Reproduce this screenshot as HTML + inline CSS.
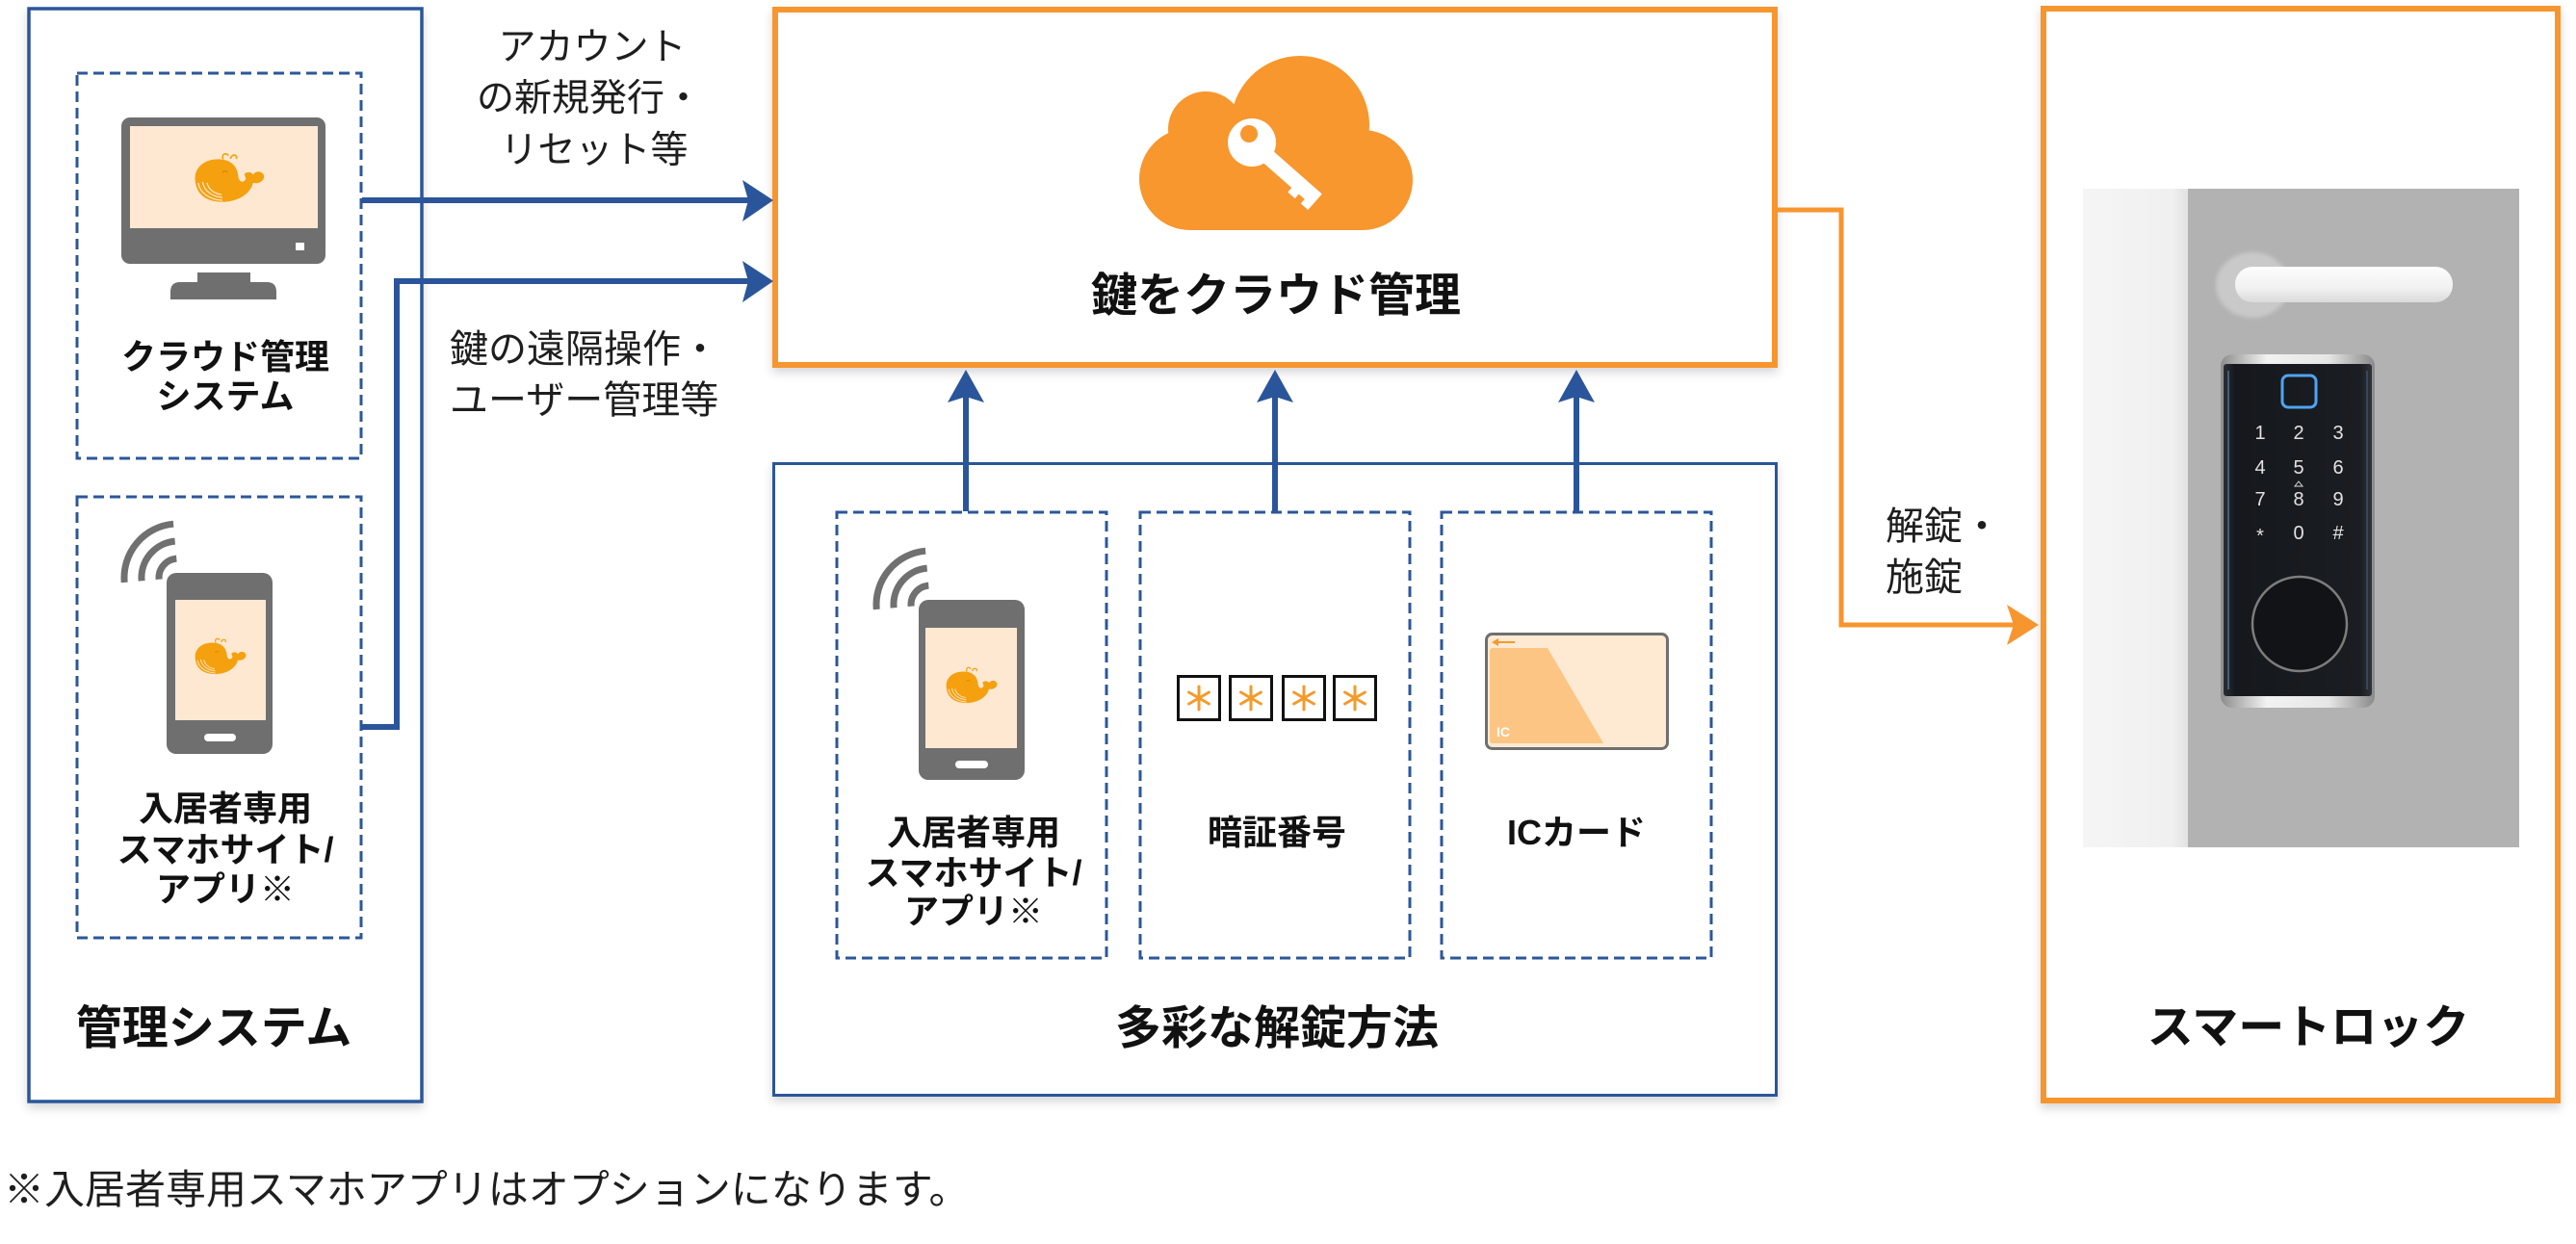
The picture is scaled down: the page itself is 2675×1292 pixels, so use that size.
<!DOCTYPE html>
<html><head><meta charset="utf-8">
<style>
html,body{margin:0;padding:0;background:#fff;}
svg{display:block;}
text{font-family:"Liberation Sans","Noto Sans CJK JP",sans-serif;}
.b{font-weight:700;fill:#111;}
.r{font-weight:400;fill:#1e1e1e;}
</style></head><body>
<svg width="2675" height="1292" viewBox="0 0 2675 1292" xmlns="http://www.w3.org/2000/svg">
<defs>
  <filter id="sh" x="-5%" y="-5%" width="110%" height="115%">
    <feDropShadow dx="0" dy="5" stdDeviation="5" flood-color="#000" flood-opacity="0.16"/>
  </filter>
  <filter id="blur2"><feGaussianBlur stdDeviation="2"/></filter>
  <linearGradient id="strip" x1="0" y1="0" x2="1" y2="0">
    <stop offset="0" stop-color="#F5F5F5"/><stop offset="0.85" stop-color="#F0F0F0"/><stop offset="1" stop-color="#E2E2E2"/>
  </linearGradient>
  <linearGradient id="bar" x1="0" y1="0" x2="0" y2="1">
    <stop offset="0" stop-color="#FDFDFD"/><stop offset="0.6" stop-color="#F1F1F1"/><stop offset="1" stop-color="#DADADA"/>
  </linearGradient>
  <linearGradient id="silver" x1="0" y1="0" x2="1" y2="0">
    <stop offset="0" stop-color="#8d8d8d"/><stop offset="0.3" stop-color="#f2f2f2"/><stop offset="0.7" stop-color="#e6e6e6"/><stop offset="1" stop-color="#8a8a8a"/>
  </linearGradient>
  <linearGradient id="body" x1="0" y1="0" x2="1" y2="0">
    <stop offset="0" stop-color="#2b2f34"/><stop offset="0.08" stop-color="#15181c"/><stop offset="0.92" stop-color="#1a1d21"/><stop offset="1" stop-color="#30343a"/>
  </linearGradient>
  <g id="whale">
    <path d="M5,40 C2,20 20,8 40,10 C55,11 63,20 64,35 C66,42 72,42 74,36 L72,30 C76,26 82,27 84,31 C88,24 98,26 99,33 C99,40 90,44 84,42 C80,58 62,68 42,68 C20,68 7,58 5,40 Z" fill="#F5A00E"/>
    <path d="M9,42 C11,56 25,65 42,66 M15,41 C17,53 28,61 42,62 M21,42 C23,51 31,57 41,58" fill="none" stroke="#FEE8D2" stroke-width="1.6"/>
    <path d="M43,10 C40,2 48,0 50,5 M53,9 C55,2 63,3 61,9" fill="none" stroke="#F5A00E" stroke-width="2.2"/>
    <path d="M42,28 C44,25 47,25 49,28" fill="none" stroke="#D98800" stroke-width="1.6"/>
  </g>
  <g id="wifi" fill="none" stroke="#707070" stroke-width="7">
    <path d="M-55.8,4.9 A56,56 0 0 1 -4.9,-55.8"/>
    <path d="M-37.9,3.3 A38,38 0 0 1 -3.3,-37.9"/>
    <path d="M-19.9,1.7 A20,20 0 0 1 -1.7,-19.9"/>
  </g>
</defs>

<!-- ===== Left box: 管理システム ===== -->
<rect x="30" y="9" width="408" height="1135" fill="#fff" stroke="#2B579A" stroke-width="3.5" filter="url(#sh)"/>
<rect x="80" y="76" width="295" height="400" fill="none" stroke="#2B579A" stroke-width="3" stroke-dasharray="11 6"/>
<rect x="80" y="516" width="295" height="458" fill="none" stroke="#2B579A" stroke-width="3" stroke-dasharray="11 6"/>

<!-- monitor -->
<rect x="126" y="122" width="212" height="152" rx="9" fill="#6f6f6f"/>
<rect x="135" y="131" width="195" height="106" fill="#FEE8D2"/>
<rect x="307" y="252" width="9" height="8" fill="#fff"/>
<rect x="205" y="283" width="55" height="11" fill="#6f6f6f"/>
<path d="M177,311 V303 Q177,293 187,293 H277 Q287,293 287,303 V311 Z" fill="#6f6f6f"/>
<use href="#whale" transform="translate(199,158) scale(0.76)"/>

<text class="b" x="234" y="383" font-size="36" text-anchor="middle">クラウド管理</text>
<text class="b" x="234" y="424" font-size="36" text-anchor="middle">システム</text>

<!-- left phone -->
<use href="#wifi" transform="translate(185,600)"/>
<rect x="173" y="595" width="110" height="188" rx="10" fill="#6f6f6f"/>
<rect x="182" y="623" width="94" height="125" fill="#FEE8D2"/>
<rect x="212" y="762" width="33" height="8" rx="4" fill="#fff"/>
<use href="#whale" transform="translate(200,662) scale(0.56)"/>

<text class="b" x="234" y="852" font-size="36" text-anchor="middle">入居者専用</text>
<text class="b" x="234" y="895" font-size="36" text-anchor="middle">スマホサイト/</text>
<text class="b" x="234" y="936" font-size="36" text-anchor="middle">アプリ※</text>

<text class="b" x="222" y="1084" font-size="48" text-anchor="middle">管理システム</text>

<!-- ===== Cloud box ===== -->
<rect x="805" y="10" width="1038" height="369" fill="#fff" stroke="#F7962F" stroke-width="6" filter="url(#sh)"/>
<g fill="#F7972E">
  <circle cx="1236" cy="186" r="53"/>
  <circle cx="1415" cy="187" r="52"/>
  <circle cx="1252" cy="134" r="39"/>
  <circle cx="1350" cy="130" r="72"/>
  <rect x="1236" y="150" width="179" height="89"/>
  <rect x="1250" y="130" width="150" height="60"/>
</g>
<g fill="#fff">
  <circle cx="1300" cy="148" r="25"/>
  <g transform="translate(1300,148) rotate(41.4)">
    <polygon points="0,-8 90,-8 90,14 80,14 80,8 72,8 72,14 62,14 62,8 0,8"/>
  </g>
</g>
<circle cx="1297" cy="139" r="9" fill="#F7972E"/>
<text class="b" x="1325" y="323" font-size="48" text-anchor="middle">鍵をクラウド管理</text>

<!-- ===== Methods box ===== -->
<rect x="803.5" y="481.5" width="1041" height="656" fill="#fff" stroke="#2B579A" stroke-width="3" filter="url(#sh)"/>
<rect x="869" y="532" width="280" height="463" fill="none" stroke="#2B579A" stroke-width="3" stroke-dasharray="11 6"/>
<rect x="1184" y="532" width="280" height="463" fill="none" stroke="#2B579A" stroke-width="3" stroke-dasharray="11 6"/>
<rect x="1497" y="532" width="280" height="463" fill="none" stroke="#2B579A" stroke-width="3" stroke-dasharray="11 6"/>

<!-- phone A -->
<use href="#wifi" transform="translate(966,628)"/>
<rect x="954" y="623" width="110" height="187" rx="10" fill="#6f6f6f"/>
<rect x="961" y="652" width="95" height="125" fill="#FEE8D2"/>
<rect x="992" y="790" width="34" height="8" rx="4" fill="#fff"/>
<use href="#whale" transform="translate(980,692) scale(0.56)"/>
<text class="b" x="1011" y="877" font-size="36" text-anchor="middle">入居者専用</text>
<text class="b" x="1011" y="919" font-size="36" text-anchor="middle">スマホサイト/</text>
<text class="b" x="1011" y="959" font-size="36" text-anchor="middle">アプリ※</text>

<!-- PIN boxes -->
<g fill="#fff" stroke="#111" stroke-width="3">
  <rect x="1223.5" y="702.5" width="43" height="45"/>
  <rect x="1277.5" y="702.5" width="43" height="45"/>
  <rect x="1332.5" y="702.5" width="43" height="45"/>
  <rect x="1385.5" y="702.5" width="43" height="45"/>
</g>
<g stroke="#F39A2B" stroke-width="3" stroke-linecap="round">
  <g transform="translate(1245,725)"><line x1="0" y1="-12" x2="0" y2="12"/><line x1="-10.4" y1="-6" x2="10.4" y2="6"/><line x1="-10.4" y1="6" x2="10.4" y2="-6"/></g>
  <g transform="translate(1299,725)"><line x1="0" y1="-12" x2="0" y2="12"/><line x1="-10.4" y1="-6" x2="10.4" y2="6"/><line x1="-10.4" y1="6" x2="10.4" y2="-6"/></g>
  <g transform="translate(1354,725)"><line x1="0" y1="-12" x2="0" y2="12"/><line x1="-10.4" y1="-6" x2="10.4" y2="6"/><line x1="-10.4" y1="6" x2="10.4" y2="-6"/></g>
  <g transform="translate(1407,725)"><line x1="0" y1="-12" x2="0" y2="12"/><line x1="-10.4" y1="-6" x2="10.4" y2="6"/><line x1="-10.4" y1="6" x2="10.4" y2="-6"/></g>
</g>
<text class="b" x="1326" y="877" font-size="36" text-anchor="middle">暗証番号</text>

<!-- IC card -->
<rect x="1543.5" y="658.5" width="188" height="119" rx="6" fill="#FEE9D3" stroke="#6f6f6f" stroke-width="3"/>
<path d="M1550,673 H1607 L1665,772 H1550 Q1547,772 1547,769 V676 Q1547,673 1550,673 Z" fill="#FDC584"/>
<line x1="1552" y1="667" x2="1573" y2="667" stroke="#F39A2B" stroke-width="2"/>
<path d="M1549,667 L1556,663 L1556,671 Z" fill="#F39A2B"/>
<text x="1554" y="765" font-size="14" font-weight="700" fill="#fff">IC</text>
<text class="b" x="1637" y="877" font-size="36" text-anchor="middle">ICカード</text>

<text class="b" x="1326" y="1084" font-size="48" text-anchor="middle">多彩な解錠方法</text>

<!-- ===== Right box: スマートロック ===== -->
<rect x="2122" y="9" width="534" height="1134" fill="#fff" stroke="#F7962F" stroke-width="6" filter="url(#sh)"/>
<rect x="2163" y="196" width="453" height="684" fill="#B2B2B2"/>
<rect x="2163" y="196" width="109" height="684" fill="url(#strip)"/>
<ellipse cx="2339" cy="296" rx="38" ry="34" fill="#C9C9C9" filter="url(#blur2)"/>
<rect x="2321" y="277" width="226" height="37" rx="18" fill="url(#bar)"/>
<rect x="2306" y="368" width="160" height="367" rx="12" fill="url(#silver)"/>
<rect x="2309" y="378" width="154" height="345" rx="3" fill="url(#body)"/>
<line x1="2314" y1="385" x2="2314" y2="716" stroke="#4a6e92" stroke-width="2" opacity="0.8"/>
<line x1="2458" y1="385" x2="2458" y2="716" stroke="#3d5670" stroke-width="2" opacity="0.7"/>
<rect x="2370" y="390" width="35" height="33" rx="6" fill="none" stroke="#4FA3F2" stroke-width="3"/>
<g font-family="Liberation Sans, sans-serif" font-size="20" fill="#e2e2e2" text-anchor="middle">
  <text x="2347" y="456">1</text><text x="2387" y="456">2</text><text x="2428" y="456">3</text>
  <text x="2347" y="492">4</text><text x="2387" y="492">5</text><text x="2428" y="492">6</text>
  <text x="2347" y="525">7</text><text x="2387" y="525">8</text><text x="2428" y="525">9</text>
  <text x="2347" y="563">*</text><text x="2387" y="560">0</text><text x="2428" y="560">#</text>
</g>
<path d="M2383,505 L2387,500 L2391,505 Z" fill="none" stroke="#ddd" stroke-width="1"/>
<circle cx="2388" cy="648" r="49" fill="#111317" stroke="#7d7d7d" stroke-width="2.5"/>
<text class="b" x="2397" y="1083" font-size="48" text-anchor="middle">スマートロック</text>

<!-- ===== Connector labels ===== -->
<text class="r" x="615" y="62" font-size="39" text-anchor="middle">アカウント</text>
<text class="r" x="612" y="115" font-size="39" text-anchor="middle">の新規発行・</text>
<text class="r" x="617" y="169" font-size="39" text-anchor="middle">リセット等</text>
<text class="r" x="467" y="376" font-size="40">鍵の遠隔操作・</text>
<text class="r" x="467" y="429" font-size="40">ユーザー管理等</text>
<text class="r" x="1958" y="560" font-size="40">解錠・</text>
<text class="r" x="1958" y="613" font-size="40">施錠</text>

<!-- ===== Connectors ===== -->
<g stroke="#2B559A" stroke-width="6" fill="none">
  <line x1="376" y1="208" x2="780" y2="208"/>
  <path d="M376,755 H412 V292 H780"/>
  <line x1="1003" y1="531" x2="1003" y2="410"/>
  <line x1="1324" y1="531" x2="1324" y2="410"/>
  <line x1="1637" y1="531" x2="1637" y2="410"/>
</g>
<g fill="#2B559A">
  <path d="M803,208 L771,187 L777,208 L771,230 Z"/>
  <path d="M803,292 L771,271 L777,292 L771,314 Z"/>
  <path d="M1003,384 L984,418 L1003,412 L1022,418 Z"/>
  <path d="M1324,384 L1305,418 L1324,412 L1343,418 Z"/>
  <path d="M1637,384 L1618,418 L1637,412 L1656,418 Z"/>
</g>
<path d="M1846,218 H1912 V649 H2092" stroke="#F7962F" stroke-width="5" fill="none"/>
<path d="M2117,649 L2084,628 L2091,649 L2084,670 Z" fill="#F7962F"/>

<!-- footnote -->
<text class="r" x="4" y="1250" font-size="42" fill="#222">※入居者専用スマホアプリはオプションになります。</text>
</svg>
</body></html>
